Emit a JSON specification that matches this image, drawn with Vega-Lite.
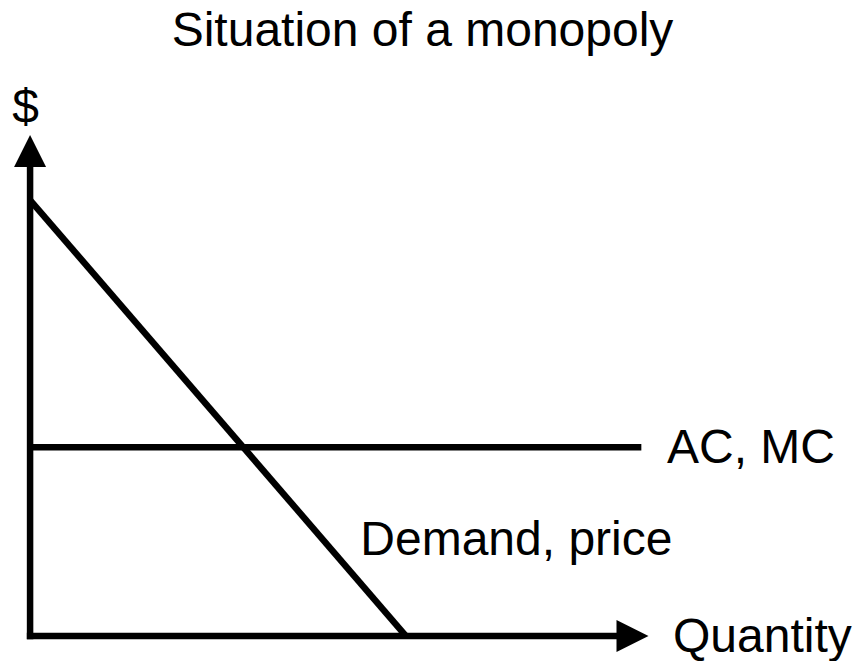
{
  "$schema": "https://vega.github.io/schema/vega-lite/v6.json",
  "width": 856,
  "height": 605,
  "autosize": {"type": "none"},
  "padding": {"top": 56, "bottom": 0, "left": 0, "right": 0},
  "background": "white",
  "title": {
    "text": "Situation of a monopoly",
    "font": "Liberation Sans",
    "fontSize": 48,
    "fontWeight": "normal",
    "color": "black",
    "anchor": "middle",
    "offset": 0,
    "dx": -5.5
  },
  "config": {"view": {"stroke": null}},
  "datasets": {
    "curves": [
      {"series": "Demand, price", "q": 0, "p": 100},
      {"series": "Demand, price", "q": 100, "p": 0},
      {"series": "AC, MC", "q": 0, "p": 43.3},
      {"series": "AC, MC", "q": 162.6, "p": 43.3}
    ],
    "axes": [
      {"axis": "Quantity", "q": -0.86, "p": 0, "q2": 157, "p2": 0},
      {"axis": "$", "q": 0, "p": -0.75, "q2": 0, "p2": 108}
    ],
    "arrows": [
      {"axis": "Quantity", "dir": "right", "q": 160.25, "p": 0},
      {"axis": "$", "dir": "up", "q": 0, "p": 111.24}
    ],
    "labels": [
      {"label": "$", "q": -4.74, "p": 117.6},
      {"label": "AC, MC", "q": 169.43, "p": 39.68},
      {"label": "Demand, price", "q": 87.84, "p": 18.6},
      {"label": "Quantity", "q": 171.02, "p": -3.67}
    ]
  },
  "encoding": {
    "x": {"field": "q", "type": "quantitative", "axis": null,
          "scale": {"domain": [-8, 219.7], "nice": false, "zero": false}},
    "y": {"field": "p", "type": "quantitative", "axis": null,
          "scale": {"domain": [-5.73, 133.03], "nice": false, "zero": false}}
  },
  "layer": [
    {
      "data": {"name": "axes"},
      "mark": {"type": "rule", "color": "black", "strokeWidth": 6.5, "strokeCap": "butt"},
      "encoding": {
        "x2": {"field": "q2"},
        "y2": {"field": "p2"}
      }
    },
    {
      "data": {"name": "curves"},
      "mark": {"type": "line", "color": "black", "strokeWidth": 6.5, "strokeCap": "butt"},
      "encoding": {
        "detail": {"field": "series", "type": "nominal"}
      }
    },
    {
      "data": {"name": "arrows"},
      "mark": {"type": "point", "filled": true, "color": "black", "opacity": 1, "size": 1024, "strokeWidth": 0},
      "encoding": {
        "shape": {"field": "dir", "type": "nominal", "legend": null,
                  "scale": {"domain": ["up", "right"], "range": ["M0,-1L1,1L-1,1Z", "M-1,-1L1,0L-1,1Z"]}}
      }
    },
    {
      "data": {"name": "labels"},
      "mark": {"type": "text", "font": "Liberation Sans", "fontSize": 48, "color": "black", "align": "left", "baseline": "alphabetic"},
      "encoding": {
        "text": {"field": "label", "type": "nominal"}
      }
    }
  ]
}
